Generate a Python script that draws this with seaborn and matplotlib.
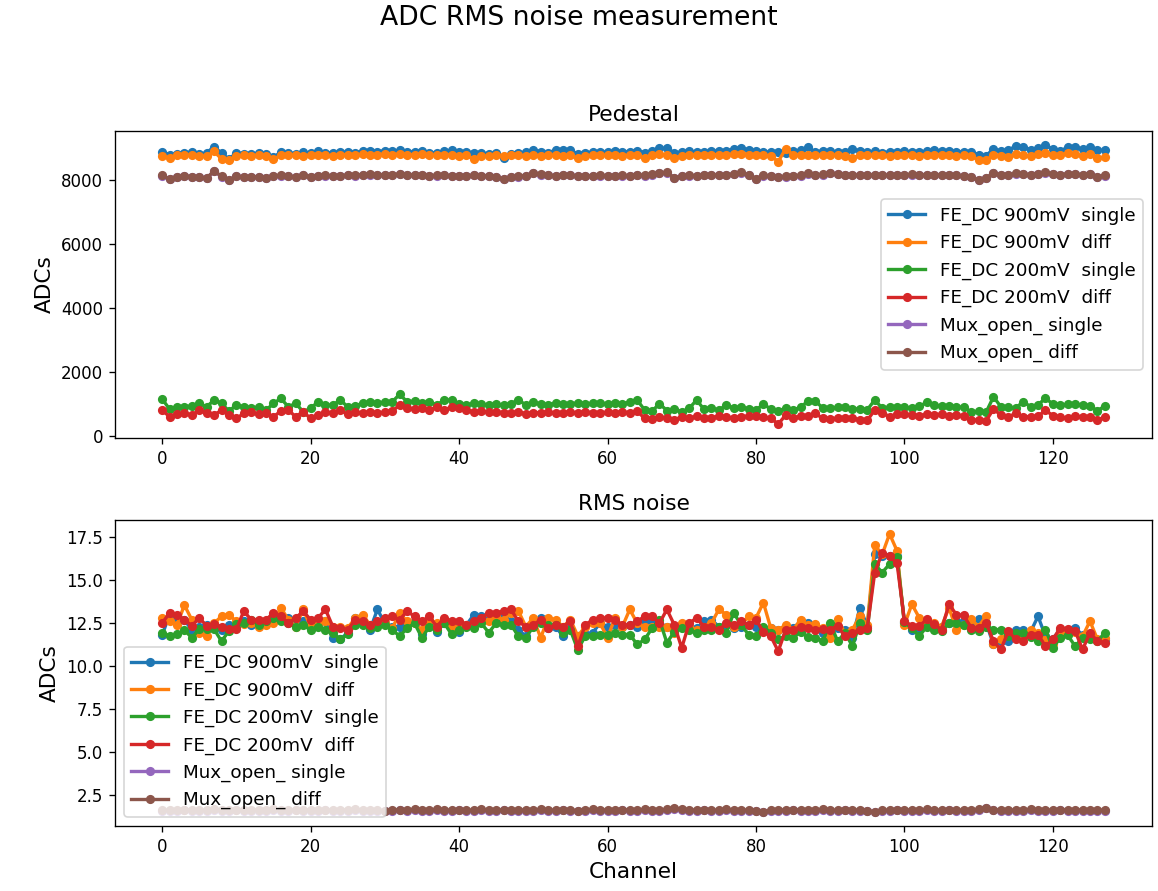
import numpy as np
import pandas as pd
import matplotlib
matplotlib.use("Agg")
import matplotlib.pyplot as plt
from matplotlib.ticker import MultipleLocator
import seaborn as sns

"""ADC pedestal and RMS noise per channel, 6 configurations"""

channels = np.arange(128)

labels = ["FE_DC 900mV  single", "FE_DC 900mV  diff",
          "FE_DC 200mV  single", "FE_DC 200mV  diff",
          "Mux_open_ single", "Mux_open_ diff"]
colors = ["#1f77b4", "#ff7f0e", "#2ca02c", "#d62728", "#9467bd", "#8c564b"]

# pedestal (ADCs)
ped_900_single = [
    8880, 8800, 8830, 8850, 8880, 8810, 8850, 9050, 8840, 8650,
    8860, 8830, 8820, 8840, 8830, 8720, 8870, 8850, 8830, 8880,
    8840, 8900, 8860, 8850, 8870, 8880, 8860, 8900, 8910, 8890,
    8920, 8900, 8930, 8890, 8880, 8920, 8860, 8850, 8900, 8930,
    8870, 8880, 8860, 8850, 8820, 8840, 8700, 8830, 8860, 8870,
    8950, 8880, 8850, 8940, 8950, 8930, 8820, 8860, 8870, 8880,
    8880, 8900, 8890, 8880, 8920, 8860, 8920, 8990, 9000, 8850,
    8880, 8900, 8870, 8880, 8900, 8920, 8900, 8980, 9000, 8950,
    8900, 8870, 8890, 8880, 8860, 8900, 8940, 9020, 8880, 8920,
    8900, 8890, 8880, 8980, 8900, 8870, 8900, 8860, 8880, 8870,
    8900, 8880, 8890, 8900, 8930, 8920, 8900, 8890, 8880, 8870,
    8800, 8760, 8980, 8900, 8940, 9060, 9040, 8950, 8990, 9100,
    8960, 8920, 9020, 9040, 8960, 9030, 8940, 8930]
ped_900_diff = [
    8760, 8690, 8770, 8780, 8790, 8760, 8740, 8900, 8660, 8620,
    8750, 8770, 8760, 8780, 8760, 8650, 8780, 8800, 8770, 8760,
    8780, 8790, 8770, 8760, 8790, 8800, 8770, 8810, 8800, 8790,
    8820, 8780, 8830, 8800, 8790, 8810, 8780, 8770, 8800, 8790,
    8740, 8780, 8650, 8760, 8740, 8770, 8760, 8780, 8770, 8750,
    8780, 8760, 8770, 8780, 8760, 8770, 8680, 8750, 8770, 8780,
    8770, 8780, 8760, 8780, 8790, 8680, 8780, 8810, 8790, 8680,
    8760, 8790, 8780, 8770, 8790, 8800, 8780, 8820, 8830, 8800,
    8780, 8770, 8760, 8580, 8980, 8790, 8780, 8800, 8780, 8770,
    8790, 8780, 8760, 8690, 8780, 8770, 8790, 8780, 8760, 8770,
    8790, 8780, 8760, 8800, 8790, 8770, 8780, 8760, 8770, 8740,
    8640, 8620, 8790, 8760, 8730, 8820, 8790, 8740, 8810, 8840,
    8790, 8780, 8840, 8810, 8760, 8830, 8680, 8720]
ped_200_single = [
    1160, 850, 920, 920, 950, 1025, 920, 1130, 1025, 785,
    975, 920, 870, 920, 815, 1025, 1180, 920, 1025, 765,
    870, 1075, 975, 975, 1130, 920, 950, 1025, 1055, 1025,
    1075, 1075, 1310, 1075, 1100, 1025, 1075, 975, 1130, 1130,
    995, 975, 1025, 1000, 980, 1000, 960, 1020, 1130, 980,
    1070, 1000, 980, 1040, 1020, 1000, 1050, 1010, 1030, 1040,
    1010, 1030, 1020, 1060, 1130, 820, 780, 1020, 800, 860,
    760, 870, 1130, 840, 870, 820, 970, 880, 900, 860,
    820, 1000, 850, 780, 880, 820, 900, 1100, 1100, 880,
    870, 900, 920, 860, 850, 830, 1130, 880, 910, 920,
    900, 880, 930, 1060, 960, 950, 940, 920, 900, 760,
    780, 750, 1230, 920, 900, 880, 1080, 920, 990, 1180,
    1010, 960, 1000, 1020, 960, 940, 800, 940]
ped_200_diff = [
    815, 610, 680, 710, 660, 815, 710, 660, 815, 660,
    555, 710, 745, 680, 710, 610, 785, 815, 610, 765,
    555, 660, 765, 710, 815, 680, 745, 710, 765, 710,
    765, 785, 975, 890, 850, 870, 815, 920, 815, 920,
    870, 815, 765, 780, 760, 770, 740, 720, 760, 700,
    740, 730, 760, 720, 740, 750, 730, 760, 740, 720,
    750, 730, 760, 740, 780, 560, 540, 600, 580, 520,
    600, 560, 620, 580, 560, 640, 600, 570, 590, 640,
    620, 590, 560, 380, 660, 580, 620, 640, 710, 560,
    550, 560, 570, 560, 520, 500, 815, 740, 610, 680,
    700, 660, 640, 680, 650, 700, 640, 660, 640, 500,
    510, 480, 850, 660, 610, 710, 610, 610, 620, 815,
    640, 600, 560, 620, 610, 600, 500, 600]
ped_mux_single = [
    8140, 8040, 8100, 8120, 8110, 8090, 8070, 8280, 8110, 8000,
    8120, 8090, 8100, 8110, 8080, 8130, 8140, 8120, 8100, 8150,
    8110, 8130, 8140, 8120, 8130, 8150, 8140, 8160, 8170, 8160,
    8160, 8150, 8190, 8150, 8160, 8150, 8140, 8140, 8150, 8130,
    8130, 8130, 8150, 8120, 8130, 8100, 8050, 8090, 8110, 8130,
    8210, 8170, 8150, 8130, 8150, 8150, 8130, 8120, 8130, 8140,
    8140, 8130, 8140, 8140, 8150, 8140, 8170, 8220, 8230, 8080,
    8130, 8140, 8140, 8150, 8150, 8160, 8160, 8190, 8230, 8150,
    8050, 8140, 8120, 8100, 8110, 8140, 8140, 8200, 8150, 8170,
    8220, 8180, 8160, 8150, 8150, 8150, 8160, 8160, 8150, 8160,
    8160, 8170, 8170, 8150, 8150, 8160, 8160, 8150, 8130, 8100,
    8000, 8060, 8220, 8150, 8150, 8200, 8190, 8160, 8190, 8230,
    8190, 8160, 8190, 8190, 8150, 8190, 8100, 8140]
ped_mux_diff = [
    8150, 8030, 8110, 8130, 8110, 8100, 8060, 8290, 8120, 7990,
    8130, 8090, 8110, 8100, 8080, 8140, 8150, 8120, 8100, 8160,
    8110, 8140, 8150, 8120, 8130, 8160, 8150, 8170, 8180, 8160,
    8170, 8160, 8200, 8150, 8170, 8160, 8140, 8150, 8160, 8130,
    8140, 8130, 8160, 8120, 8140, 8100, 8040, 8090, 8120, 8140,
    8220, 8180, 8150, 8140, 8160, 8150, 8130, 8120, 8140, 8150,
    8140, 8130, 8150, 8140, 8160, 8150, 8180, 8230, 8240, 8070,
    8130, 8150, 8140, 8160, 8150, 8170, 8160, 8200, 8240, 8150,
    8040, 8150, 8120, 8100, 8120, 8140, 8150, 8210, 8150, 8180,
    8230, 8180, 8170, 8150, 8160, 8150, 8170, 8160, 8150, 8170,
    8160, 8180, 8170, 8160, 8150, 8170, 8160, 8150, 8130, 8100,
    7990, 8060, 8230, 8150, 8160, 8210, 8190, 8170, 8200, 8240,
    8190, 8170, 8200, 8190, 8160, 8200, 8090, 8150]

# rms noise (ADCs)
rms_900_single = [
    11.8, 13.0, 12.8, 12.7, 12.1, 12.3, 12.4, 12.3, 12.1, 12.4,
    12.3, 12.6, 12.4, 12.5, 12.6, 12.7, 12.8, 12.8, 12.5, 12.6,
    12.4, 12.5, 12.6, 11.65, 11.55, 11.95, 12.8, 12.6, 12.1, 13.3,
    12.5, 12.3, 12.3, 12.5, 12.6, 11.85, 12.5, 12.0, 12.5, 12.4,
    12.0, 12.4, 13.0, 12.9, 12.7, 12.6, 12.9, 12.6, 12.1, 11.75,
    12.4, 12.8, 12.2, 12.3, 11.75, 12.2, 11.75, 11.85, 11.95, 12.5,
    12.3, 12.4, 12.3, 12.4, 12.3, 12.6, 12.6, 12.5, 12.3, 12.1,
    12.3, 12.3, 12.2, 12.6, 12.7, 12.3, 12.4, 12.2, 12.3, 12.4,
    12.3, 12.2, 12.2, 12.1, 12.3, 12.2, 12.6, 12.5, 12.4, 11.94,
    12.0, 12.2, 12.13, 11.65, 13.4, 12.33, 16.52, 16.43, 16.4, 16.43,
    12.5, 12.13, 12.2, 12.5, 12.4, 12.3, 12.5, 12.6, 12.6, 12.3,
    12.72, 12.52, 11.26, 11.45, 11.45, 12.13, 12.1, 12.0, 12.9, 11.74,
    11.6, 12.13, 11.94, 12.23, 11.8, 11.8, 11.5, 11.5]
rms_900_diff = [
    12.8, 12.6, 12.4, 13.55, 12.7, 11.95, 11.75, 12.5, 12.9, 13.0,
    12.6, 12.45, 12.5, 12.3, 12.4, 12.5, 13.4, 12.7, 12.3, 13.3,
    12.3, 12.4, 12.6, 12.3, 12.3, 12.2, 12.8, 13.0, 12.4, 12.5,
    12.5, 12.2, 13.1, 12.6, 12.5, 12.1, 12.7, 12.5, 12.7, 12.3,
    12.2, 12.4, 12.5, 12.7, 12.6, 12.9, 12.7, 13.1, 13.2, 12.3,
    12.8, 11.65, 12.8, 12.7, 12.3, 12.7, 11.75, 12.3, 12.5, 12.5,
    11.65, 12.8, 12.3, 13.3, 12.5, 12.3, 12.3, 12.3, 12.3, 11.94,
    12.5, 12.3, 12.1, 12.3, 12.5, 13.3, 13.0, 12.3, 12.4, 12.9,
    12.8, 13.7, 12.2, 12.1, 12.4, 12.1, 12.7, 12.4, 12.43, 12.2,
    11.65, 12.72, 11.9, 12.13, 12.92, 12.4, 17.05, 16.5, 17.7, 16.72,
    12.4, 13.6, 12.82, 12.5, 12.52, 12.3, 13.4, 12.13, 12.4, 12.72,
    12.3, 12.92, 11.26, 11.6, 11.9, 11.74, 11.8, 12.13, 11.94, 11.5,
    11.3, 12.0, 12.13, 12.0, 11.74, 12.62, 11.55, 11.65]
rms_200_single = [
    11.95, 11.75, 11.85, 12.1, 11.65, 12.15, 12.15, 12.15, 11.45, 12.05,
    12.45, 12.5, 12.7, 12.4, 12.6, 12.8, 12.6, 12.5, 12.3, 12.4,
    12.1, 12.3, 12.1, 11.95, 11.55, 11.85, 12.4, 12.4, 12.2, 12.3,
    12.4, 12.1, 11.75, 12.2, 12.5, 11.65, 12.3, 12.1, 12.5, 11.85,
    12.1, 12.3, 12.2, 12.5, 11.95, 12.5, 12.4, 12.4, 11.75, 11.65,
    12.3, 12.5, 12.4, 12.4, 11.95, 12.1, 10.95, 11.75, 11.75, 11.84,
    11.84, 11.94, 11.84, 11.84, 11.26, 11.55, 12.2, 12.7, 11.36, 12.0,
    12.2, 12.1, 11.94, 12.1, 12.1, 12.3, 11.94, 13.1, 12.4, 11.84,
    11.74, 12.3, 11.94, 11.55, 11.74, 11.65, 12.0, 11.7, 11.65, 11.45,
    12.52, 11.45, 11.94, 11.16, 12.52, 12.13, 15.94, 15.45, 15.94, 16.33,
    12.55, 12.2, 11.74, 12.3, 12.13, 12.04, 12.5, 12.5, 12.4, 12.13,
    12.04, 12.3, 12.1, 12.13, 11.74, 11.9, 11.94, 11.7, 11.45, 12.13,
    11.06, 11.65, 11.8, 11.16, 11.65, 11.55, 11.45, 11.94]
rms_200_diff = [
    12.5, 13.1, 13.0, 12.7, 12.35, 12.8, 12.35, 12.45, 12.3, 12.15,
    12.15, 13.2, 12.7, 12.7, 12.7, 13.1, 12.9, 12.5, 12.8, 13.2,
    12.7, 12.8, 13.3, 12.3, 12.2, 12.1, 12.7, 12.6, 12.4, 12.6,
    12.8, 12.9, 12.7, 13.2, 12.9, 12.6, 12.9, 12.3, 12.8, 12.6,
    12.6, 12.4, 12.6, 12.8, 13.1, 13.1, 13.2, 13.3, 12.6, 12.3,
    12.4, 12.7, 12.2, 12.4, 12.3, 12.6, 11.15, 12.4, 12.7, 12.8,
    12.8, 12.7, 12.4, 12.4, 12.6, 12.9, 12.9, 12.5, 13.3, 12.4,
    11.06, 12.5, 12.8, 12.3, 12.3, 12.1, 12.5, 12.4, 12.6, 12.4,
    12.7, 12.0, 11.74, 10.87, 12.1, 12.1, 12.3, 12.2, 12.13, 12.17,
    12.13, 12.33, 11.74, 11.94, 12.13, 12.23, 15.45, 16.58, 16.39, 16.0,
    12.65, 12.33, 12.33, 12.72, 12.43, 12.13, 13.6, 13.0, 12.95, 12.23,
    12.23, 12.52, 11.45, 10.97, 12.04, 11.55, 11.45, 11.84, 11.84, 11.16,
    11.55, 12.23, 12.17, 12.04, 10.97, 11.94, 11.45, 11.36]
rms_mux_single = [
    1.57, 1.59, 1.58, 1.60, 1.58, 1.57, 1.59, 1.61, 1.58, 1.58,
    1.60, 1.57, 1.58, 1.59, 1.58, 1.61, 1.58, 1.57, 1.60, 1.59,
    1.58, 1.58, 1.60, 1.57, 1.59, 1.58, 1.61, 1.58, 1.57, 1.59,
    1.56, 1.58, 1.60, 1.58, 1.62, 1.57, 1.59, 1.61, 1.58, 1.58,
    1.60, 1.58, 1.57, 1.61, 1.59, 1.58, 1.60, 1.58, 1.57, 1.59,
    1.58, 1.61, 1.58, 1.57, 1.60, 1.59, 1.55, 1.58, 1.61, 1.58,
    1.59, 1.57, 1.60, 1.58, 1.58, 1.61, 1.59, 1.57, 1.62, 1.70,
    1.62, 1.59, 1.58, 1.60, 1.58, 1.57, 1.61, 1.59, 1.58, 1.58,
    1.55, 1.50, 1.57, 1.59, 1.58, 1.60, 1.58, 1.57, 1.59, 1.61,
    1.58, 1.57, 1.60, 1.58, 1.59, 1.55, 1.50, 1.57, 1.58, 1.60,
    1.58, 1.59, 1.57, 1.61, 1.58, 1.58, 1.60, 1.59, 1.57, 1.58,
    1.62, 1.71, 1.60, 1.58, 1.59, 1.57, 1.58, 1.61, 1.58, 1.59,
    1.57, 1.60, 1.58, 1.58, 1.59, 1.57, 1.58, 1.58]
rms_mux_diff = [
    1.60, 1.63, 1.61, 1.64, 1.62, 1.60, 1.63, 1.65, 1.61, 1.62,
    1.64, 1.60, 1.62, 1.63, 1.61, 1.65, 1.62, 1.60, 1.64, 1.63,
    1.62, 1.61, 1.64, 1.60, 1.63, 1.62, 1.65, 1.61, 1.60, 1.63,
    1.58, 1.61, 1.64, 1.62, 1.66, 1.60, 1.63, 1.65, 1.62, 1.61,
    1.64, 1.62, 1.60, 1.65, 1.63, 1.61, 1.64, 1.62, 1.60, 1.63,
    1.61, 1.65, 1.62, 1.60, 1.64, 1.63, 1.58, 1.62, 1.65, 1.61,
    1.63, 1.60, 1.64, 1.62, 1.61, 1.65, 1.63, 1.60, 1.66, 1.74,
    1.66, 1.63, 1.61, 1.64, 1.62, 1.60, 1.65, 1.63, 1.61, 1.62,
    1.58, 1.52, 1.60, 1.63, 1.61, 1.64, 1.62, 1.60, 1.63, 1.65,
    1.62, 1.60, 1.64, 1.61, 1.63, 1.58, 1.52, 1.60, 1.62, 1.64,
    1.61, 1.63, 1.60, 1.65, 1.62, 1.61, 1.64, 1.63, 1.60, 1.62,
    1.66, 1.75, 1.64, 1.61, 1.63, 1.60, 1.62, 1.65, 1.61, 1.63,
    1.60, 1.64, 1.62, 1.61, 1.63, 1.60, 1.62, 1.61]

ped_series = [ped_900_single, ped_900_diff, ped_200_single,
              ped_200_diff, ped_mux_single, ped_mux_diff]
rms_series = [rms_900_single, rms_900_diff, rms_200_single,
              rms_200_diff, rms_mux_single, rms_mux_diff]


def draw_panel(ax, series, title, legend_loc):
    for vals, lab, col in zip(series, labels, colors):
        df = pd.DataFrame({"channel": channels, "adc": vals})
        sns.lineplot(data=df, x="channel", y="adc", ax=ax, color=col,
                     label=lab, marker="o", markersize=5.5,
                     markeredgewidth=0, linewidth=2)
    ax.set_title(title, fontsize=13)
    ax.set_ylabel("ADCs", fontsize=13)
    ax.tick_params(labelsize=10)
    ax.legend(loc=legend_loc, fontsize=11)


fig = plt.figure(figsize=(9.65, 7.425), dpi=120)
ax1 = fig.add_axes([0.0993, 0.5084, 0.8955, 0.3446])
ax2 = fig.add_axes([0.0993, 0.0730, 0.8955, 0.3434])

draw_panel(ax1, ped_series, "Pedestal", "center right")
ax1.set_xlabel("")
draw_panel(ax2, rms_series, "RMS noise", "lower left")
ax2.set_xlabel("Channel", fontsize=13)
ax2.yaxis.set_major_locator(MultipleLocator(2.5))

fig.suptitle("ADC RMS noise measurement", fontsize=16, y=1 - 18 / 891,
             va="center")

fig.savefig("out.png", dpi=120)
